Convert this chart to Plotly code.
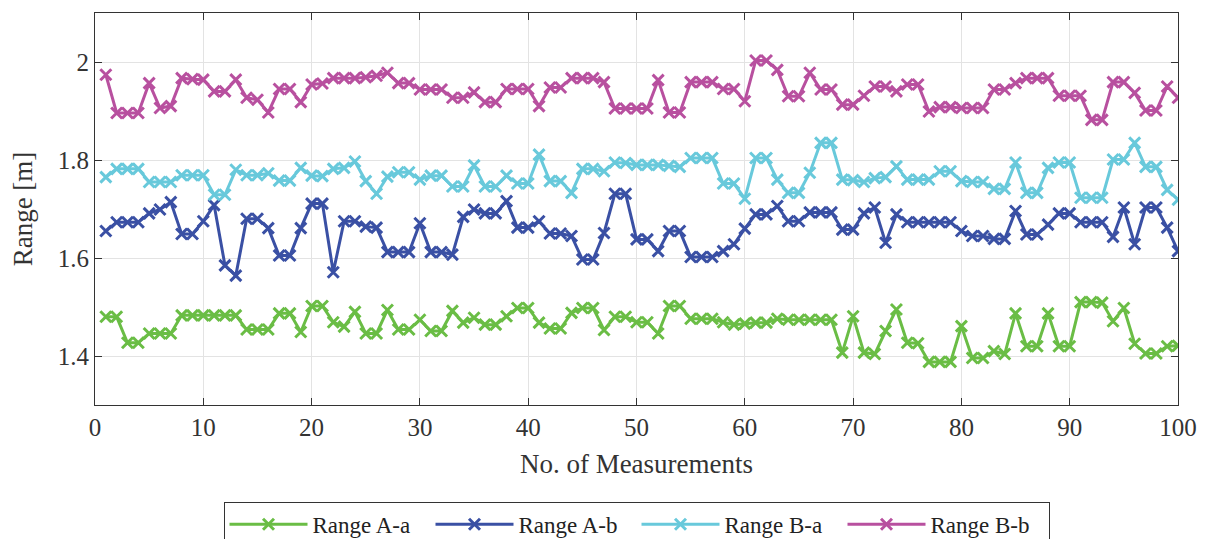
import plotly.graph_objects as go

measurements = list(range(1, 101))

range_A_a = [1.480, 1.480, 1.427, 1.427, 1.446, 1.446, 1.446, 1.483, 1.483, 1.483,
             1.483, 1.483, 1.483, 1.454, 1.454, 1.454, 1.487, 1.487, 1.449, 1.502,
             1.502, 1.469, 1.460, 1.490, 1.446, 1.446, 1.494, 1.454, 1.454, 1.474,
             1.451, 1.451, 1.492, 1.468, 1.478, 1.464, 1.464, 1.481, 1.498, 1.498,
             1.468, 1.456, 1.456, 1.488, 1.498, 1.498, 1.453, 1.480, 1.480, 1.469,
             1.469, 1.446, 1.502, 1.502, 1.476, 1.476, 1.476, 1.469, 1.464, 1.466,
             1.468, 1.468, 1.476, 1.474, 1.474, 1.474, 1.474, 1.474, 1.407, 1.481,
             1.407, 1.404, 1.451, 1.495, 1.427, 1.426, 1.388, 1.388, 1.388, 1.461,
             1.396, 1.396, 1.410, 1.404, 1.487, 1.420, 1.420, 1.487, 1.420, 1.420,
             1.510, 1.510, 1.509, 1.471, 1.498, 1.425, 1.405, 1.405, 1.420, 1.421]

range_A_b = [1.655, 1.673, 1.673, 1.673, 1.691, 1.699, 1.714, 1.649, 1.649, 1.675,
             1.708, 1.585, 1.564, 1.680, 1.680, 1.661, 1.605, 1.605, 1.661, 1.711,
             1.711, 1.571, 1.675, 1.675, 1.664, 1.662, 1.612, 1.612, 1.612, 1.671,
             1.612, 1.612, 1.607, 1.684, 1.699, 1.691, 1.691, 1.716, 1.662, 1.662,
             1.675, 1.650, 1.650, 1.645, 1.597, 1.597, 1.651, 1.731, 1.731, 1.638,
             1.638, 1.614, 1.655, 1.655, 1.602, 1.602, 1.602, 1.614, 1.628, 1.660,
             1.689, 1.689, 1.706, 1.675, 1.675, 1.693, 1.693, 1.693, 1.658, 1.658,
             1.691, 1.703, 1.631, 1.689, 1.673, 1.673, 1.673, 1.673, 1.673, 1.655,
             1.645, 1.645, 1.639, 1.639, 1.696, 1.648, 1.648, 1.668, 1.691, 1.691,
             1.673, 1.673, 1.673, 1.643, 1.703, 1.628, 1.703, 1.703, 1.662, 1.614]

range_B_a = [1.765, 1.782, 1.782, 1.782, 1.755, 1.755, 1.755, 1.769, 1.769, 1.769,
             1.729, 1.729, 1.780, 1.769, 1.769, 1.773, 1.758, 1.758, 1.784, 1.768,
             1.767, 1.782, 1.784, 1.797, 1.757, 1.731, 1.766, 1.775, 1.775, 1.760,
             1.768, 1.768, 1.746, 1.746, 1.789, 1.746, 1.746, 1.768, 1.752, 1.752,
             1.811, 1.757, 1.757, 1.733, 1.782, 1.782, 1.777, 1.795, 1.794, 1.790,
             1.790, 1.790, 1.788, 1.786, 1.804, 1.804, 1.804, 1.752, 1.752, 1.721,
             1.804, 1.804, 1.760, 1.733, 1.733, 1.774, 1.835, 1.835, 1.760, 1.759,
             1.755, 1.763, 1.765, 1.787, 1.760, 1.760, 1.760, 1.777, 1.777, 1.757,
             1.755, 1.755, 1.741, 1.741, 1.795, 1.733, 1.733, 1.784, 1.795, 1.795,
             1.723, 1.723, 1.723, 1.801, 1.801, 1.835, 1.786, 1.786, 1.739, 1.719]

range_B_b = [1.974, 1.896, 1.896, 1.896, 1.957, 1.906, 1.910, 1.967, 1.965, 1.964,
             1.940, 1.940, 1.964, 1.927, 1.923, 1.897, 1.945, 1.945, 1.918, 1.954,
             1.956, 1.967, 1.967, 1.967, 1.969, 1.972, 1.978, 1.957, 1.957, 1.944,
             1.944, 1.944, 1.927, 1.927, 1.938, 1.918, 1.918, 1.945, 1.945, 1.945,
             1.910, 1.948, 1.948, 1.967, 1.967, 1.967, 1.959, 1.905, 1.905, 1.905,
             1.905, 1.963, 1.897, 1.897, 1.959, 1.959, 1.959, 1.945, 1.945, 1.920,
             2.003, 2.003, 1.984, 1.930, 1.930, 1.978, 1.944, 1.944, 1.913, 1.913,
             1.931, 1.950, 1.950, 1.940, 1.954, 1.954, 1.899, 1.908, 1.908, 1.906,
             1.906, 1.906, 1.944, 1.944, 1.957, 1.967, 1.967, 1.967, 1.931, 1.931,
             1.931, 1.882, 1.882, 1.959, 1.959, 1.937, 1.901, 1.901, 1.950, 1.927]

series_names = ["Range A-a", "Range A-b", "Range B-a", "Range B-b"]
series_values = [range_A_a, range_A_b, range_B_a, range_B_b]
series_colors = ["#6abd45", "#3a50a4", "#68c9db", "#b8509f"]

x_ticks = [0, 10, 20, 30, 40, 50, 60, 70, 80, 90, 100]
y_ticks = [1.4, 1.6, 1.8, 2.0]
y_tick_labels = ["1.4", "1.6", "1.8", "2"]

FONT = "Liberation Serif, DejaVu Serif, serif"

fig = go.Figure()
for name, vals, col in zip(series_names, series_values, series_colors):
    fig.add_trace(go.Scatter(
        x=measurements, y=vals, name=name, mode="lines+markers",
        line=dict(color=col, width=3),
        marker=dict(symbol="x-thin", size=11, color=col,
                    line=dict(color=col, width=3)),
    ))

axis_common = dict(
    showline=True, linecolor="#333333", linewidth=1.2, mirror="ticks",
    ticks="inside", ticklen=7, tickwidth=1.2, tickcolor="#333333",
    showgrid=True, gridcolor="#e3e3e3", gridwidth=1, zeroline=False,
    tickfont=dict(family=FONT, size=25, color="#333333"),
)

fig.update_layout(
    width=1207, height=539,
    paper_bgcolor="white", plot_bgcolor="white",
    margin=dict(l=95, r=29, t=13, b=134, autoexpand=False),
    font=dict(family=FONT, color="#333333"),
    xaxis=dict(range=[0, 100], tickvals=x_ticks,
               title=dict(text="No. of Measurements", font=dict(family=FONT, size=27, color="#333333"), standoff=14),
               **axis_common),
    yaxis=dict(range=[1.3, 2.1], tickvals=y_ticks, ticktext=y_tick_labels,
               title=dict(text="Range [m]", font=dict(family=FONT, size=27, color="#333333"), standoff=17),
               **axis_common),
    legend=dict(orientation="h", x=0.5, xanchor="center", y=-0.247, yanchor="top",
                bordercolor="#333333", borderwidth=1, bgcolor="white",
                font=dict(family=FONT, size=23, color="#222222"),
                itemwidth=78, entrywidth=113, entrywidthmode="pixels", tracegroupgap=0),
    showlegend=True,
)

fig.write_html("out.html")
